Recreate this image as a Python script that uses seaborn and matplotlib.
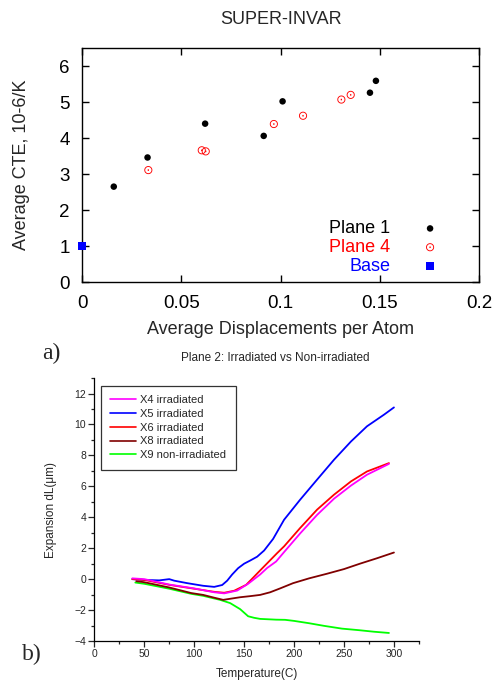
import numpy as np
import pandas as pd
import matplotlib
matplotlib.use("Agg")
import matplotlib.pyplot as plt
import seaborn as sns

# ---- panel a) data: average CTE vs displacements per atom
plane1_dpa = [0.016, 0.033, 0.062, 0.0915, 0.101, 0.145, 0.148]
plane1_cte = [2.65, 3.46, 4.40, 4.06, 5.02, 5.26, 5.59]
plane4_dpa = [0.0334, 0.0603, 0.0623, 0.0966, 0.1113, 0.1306, 0.1353]
plane4_cte = [3.11, 3.66, 3.63, 4.39, 4.62, 5.07, 5.20]
base_dpa = [0.0]
base_cte = [1.0]

# ---- panel b) data: expansion vs temperature
x4_t = [38, 50, 75, 100, 120, 130, 143, 154, 160, 166, 173, 182, 190, 206, 223, 240, 257, 273, 295]
x4_dl = [0.05, 0.0, -0.35, -0.6, -0.85, -0.92, -0.74, -0.3, 0.0, 0.3, 0.72, 1.14, 1.75, 2.95, 4.15, 5.2, 6.05, 6.75, 7.45]
x5_t = [38, 50, 65, 75, 80, 93, 109, 120, 128, 133, 138, 144, 150, 156, 163, 170, 179, 190, 206, 223, 240, 257, 273, 290, 300]
x5_dl = [0.0, -0.05, -0.08, 0.0, -0.1, -0.26, -0.43, -0.5, -0.38, -0.1, 0.3, 0.71, 1.0, 1.2, 1.45, 1.85, 2.6, 3.84, 5.13, 6.43, 7.72, 8.9, 9.88, 10.63, 11.1]
x6_t = [38, 50, 75, 100, 120, 130, 140, 152, 160, 166, 173, 183, 190, 206, 223, 240, 257, 273, 295]
x6_dl = [0.0, -0.05, -0.37, -0.62, -0.82, -0.88, -0.75, -0.37, 0.16, 0.56, 1.02, 1.68, 2.12, 3.3, 4.49, 5.46, 6.32, 6.96, 7.5]
x8_t = [42, 50, 75, 97, 109, 120, 129, 138, 146, 156, 166, 176, 186, 199, 215, 233, 250, 266, 283, 300]
x8_dl = [-0.13, -0.2, -0.54, -0.9, -1.02, -1.2, -1.34, -1.25, -1.17, -1.1, -1.02, -0.85, -0.6, -0.26, 0.05, 0.35, 0.65, 1.0, 1.35, 1.72]
x9_t = [41, 50, 75, 97, 109, 120, 126, 136, 146, 154, 160, 166, 182, 191, 200, 215, 230, 248, 265, 280, 295]
x9_dl = [-0.22, -0.3, -0.62, -0.95, -1.08, -1.25, -1.34, -1.55, -1.94, -2.4, -2.5, -2.57, -2.62, -2.63, -2.7, -2.85, -3.02, -3.2, -3.3, -3.4, -3.48]

series_names = ["X4 irradiated", "X5 irradiated", "X6 irradiated", "X8 irradiated", "X9 non-irradiated"]
series_colors = ["#ff00ff", "#0000ff", "#ff0000", "#800000", "#00ff00"]

sns.set_style("ticks")
plt.rcParams["font.family"] = ["Liberation Sans", "DejaVu Sans"]

fig = plt.figure(figsize=(4.94, 6.82), dpi=100)

# ---------------- panel a)
ax1 = fig.add_axes([0.166, 0.5865, 0.804, 0.343])
sns.scatterplot(x=plane1_dpa, y=plane1_cte, ax=ax1, color="black", s=22,
                edgecolor="none", label="Plane 1")
sns.scatterplot(x=plane4_dpa, y=plane4_cte, ax=ax1, color="red", s=34,
                marker="$\\odot$", edgecolor="none", linewidth=0, label="Plane 4")
sns.scatterplot(x=base_dpa, y=base_cte, ax=ax1, color="blue", s=40, marker="s",
                edgecolor="none", label="Base", clip_on=False, zorder=5)
ax1.set_xlim(0, 0.2)
ax1.set_ylim(0, 6.5)
ax1.set_xticks([0, 0.05, 0.1, 0.15, 0.2])
ax1.set_xticklabels(["0", "0.05", "0.1", "0.15", "0.2"])
ax1.set_yticks(range(0, 7))
ax1.tick_params(direction="in", top=True, right=True, length=5, width=1,
                labelsize=13.5, pad=9, colors="black")
for sp in ax1.spines.values():
    sp.set_linewidth(1)
    sp.set_color("black")
ax1.set_title("SUPER-INVAR", fontsize=13, pad=17)
ax1.set_xlabel("Average Displacements per Atom", fontsize=13, labelpad=7)
ax1.set_ylabel("Average CTE, 10-6/K", fontsize=13, labelpad=21)
leg1 = ax1.legend(loc="lower right", bbox_to_anchor=(0.94, 0.0), borderaxespad=0,
                  frameon=False, markerfirst=False, fontsize=13,
                  handletextpad=1.2, labelspacing=0.1,
                  labelcolor=["black", "red", "blue"])

# ---------------- panel b)
ax2 = fig.add_axes([0.191, 0.0601, 0.657, 0.3856])
frames = []
for name, t, dl in zip(series_names, [x4_t, x5_t, x6_t, x8_t, x9_t],
                       [x4_dl, x5_dl, x6_dl, x8_dl, x9_dl]):
    frames.append(pd.DataFrame({"T": t, "dL": dl, "sample": name}))
curves = pd.concat(frames, ignore_index=True)
draw_order = ["X9 non-irradiated", "X8 irradiated", "X5 irradiated", "X6 irradiated", "X4 irradiated"]
pal = dict(zip(series_names, series_colors))
for name in draw_order:
    sns.lineplot(data=curves[curves["sample"] == name], x="T", y="dL", ax=ax2,
                 color=pal[name], linewidth=1.3, sort=False, legend=False)
handles = [plt.Line2D([], [], color=c, linewidth=1.2) for c in series_colors]
ax2.legend(handles, series_names, loc="upper left", bbox_to_anchor=(0.02, 0.971),
           borderaxespad=0, fontsize=8, fancybox=False, edgecolor="#333333",
           framealpha=1, handlelength=2.3, handletextpad=0.4, labelspacing=0.34,
           borderpad=0.85).get_frame().set_linewidth(0.9)
ax2.set_xlim(0, 325)
ax2.set_ylim(-4, 13)
ax2.set_xticks(range(0, 301, 50))
ax2.set_xticks(range(25, 326, 50), minor=True)
ax2.set_yticks(range(-4, 13, 2))
ax2.set_yticks(range(-3, 14, 2), minor=True)
ax2.tick_params(which="major", direction="out", length=4, width=0.9, labelsize=7.5, pad=2)
ax2.tick_params(which="minor", direction="out", length=2.5, width=0.9)
sns.despine(ax=ax2)
for sp in ax2.spines.values():
    sp.set_linewidth(0.9)
    sp.set_color("black")
ax2.set_xlabel("Temperature(C)", fontsize=8.5, labelpad=6.5)
ax2.set_ylabel("Expansion dL(\u03bcm)", fontsize=8.5, labelpad=12)

fig.text(275 / 494, 1 - 358 / 682, "Plane 2: Irradiated vs Non-irradiated",
         fontsize=8.5, ha="center", va="center")
fig.text(51 / 494, 1 - 353 / 682, "a)", fontsize=17, ha="center", va="center",
         family="Liberation Serif")
fig.text(32 / 494, 1 - 654 / 682, "b)", fontsize=17, ha="center", va="center",
         family="Liberation Serif")

fig.savefig("out.png", dpi=100)
